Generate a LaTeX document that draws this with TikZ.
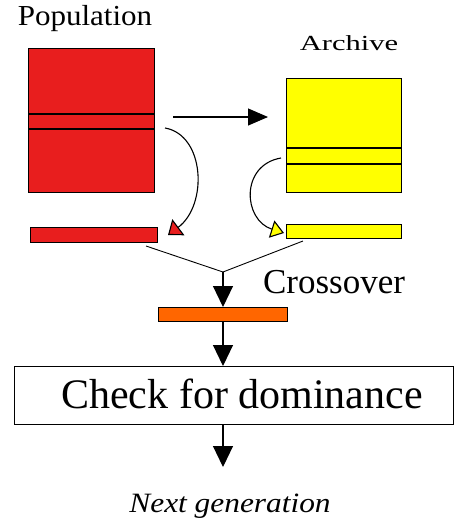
\documentclass[tikz,border=0pt]{standalone}
\usepackage{fontspec}
\setmainfont{Liberation Serif}
\usetikzlibrary{arrows.meta,calc}
\definecolor{popred}{RGB}{232,30,30}
\definecolor{arcyellow}{RGB}{255,255,0}
\definecolor{kidorange}{RGB}{255,102,0}
\tikzset{
  block/.style={draw=black, line width=1.1pt, inner sep=0pt, anchor=north west},
  flow/.style={line width=1.1pt, -{Triangle[length=21pt,width=20pt]}},
  pickcurve/.style={line width=1.1pt},
  cross/.style={line width=0.9pt},
  title/.style={inner sep=0pt},
}
\begin{document}
\begin{tikzpicture}[x=1pt,y=-1pt]
\useasboundingbox (0,0) rectangle (455,523);

% population and its selected member
\node[title, font=\fontsize{29}{34}\selectfont] (poplabel) at (85,19) {\scalebox{1.07}[1]{Population}};
\node[block, fill=popred, minimum width=126pt, minimum height=144pt] (pop) at (28,48) {};
\draw[line width=1.1pt] (pop.west |- 0,114) -- (pop.east |- 0,114);
\draw[line width=1.1pt] (pop.west |- 0,129) -- (pop.east |- 0,129);
\node[block, fill=popred, minimum width=127pt, minimum height=15pt] (pbar) at (30,227) {};

% archive and its selected member
\node[title, font=\fontsize{21.5}{26}\selectfont] (arclabel) at (349,43) {\scalebox{1.42}[1]{Archive}};
\node[block, fill=arcyellow, minimum width=115pt, minimum height=114pt] (arc) at (286,78) {};
\draw[line width=1.1pt] (arc.west |- 0,148) -- (arc.east |- 0,148);
\draw[line width=1.1pt] (arc.west |- 0,164) -- (arc.east |- 0,164);
\node[block, fill=arcyellow, minimum width=115pt, minimum height=14pt] (abar) at (286,224) {};

% population feeds the archive
\coordinate (hstart) at (173,117);
\coordinate (hend) at (268,117);
\draw[line width=1.1pt, -{Triangle[length=20pt,width=17pt]}] (hstart) -- (hend);

% selection of one member from each set
\coordinate (rs) at (165,128);
\coordinate (re) at (168,235);
\draw[pickcurve, -{Triangle[length=13pt,width=20pt,fill=popred]}]
  (rs) .. controls (205,135) and (208,205) .. (re);
\coordinate (ys) at (281,158);
\coordinate (ye) at (284,233);
\draw[pickcurve, -{Triangle[length=13pt,width=18pt,fill=arcyellow]}]
  (ys) .. controls (240,165) and (243,220) .. (ye);

% crossover
\coordinate (pl) at (146,246);
\coordinate (al) at (303,241);
\coordinate (join) at (223,272);
\draw[cross] (pl) -- (join);
\draw[cross] (al) -- (join);
\node[font=\fontsize{35}{40}\selectfont, inner sep=0pt] (crosslabel) at (334,282) {Crossover};
\node[block, fill=kidorange, minimum width=129pt, minimum height=14pt] (kid) at (158,307) {};
\draw[flow] (join) -- (kid.north -| join);

% dominance check
\node[block, fill=white, minimum width=439pt, minimum height=58pt] (check) at (14,366) {};
\node[font=\fontsize{42}{48}\selectfont, inner sep=0pt] (checklabel) at (242,394) {Check for dominance};
\draw[flow] (kid.south -| join) -- (check.north -| join);

% result
\node[title, font=\itshape\fontsize{28}{33}\selectfont] (next) at (230,506) {\scalebox{1.12}[1]{Next generation}};
\coordinate (nend) at (223,467);
\draw[flow] (check.south -| join) -- (nend);
\end{tikzpicture}
\end{document}
